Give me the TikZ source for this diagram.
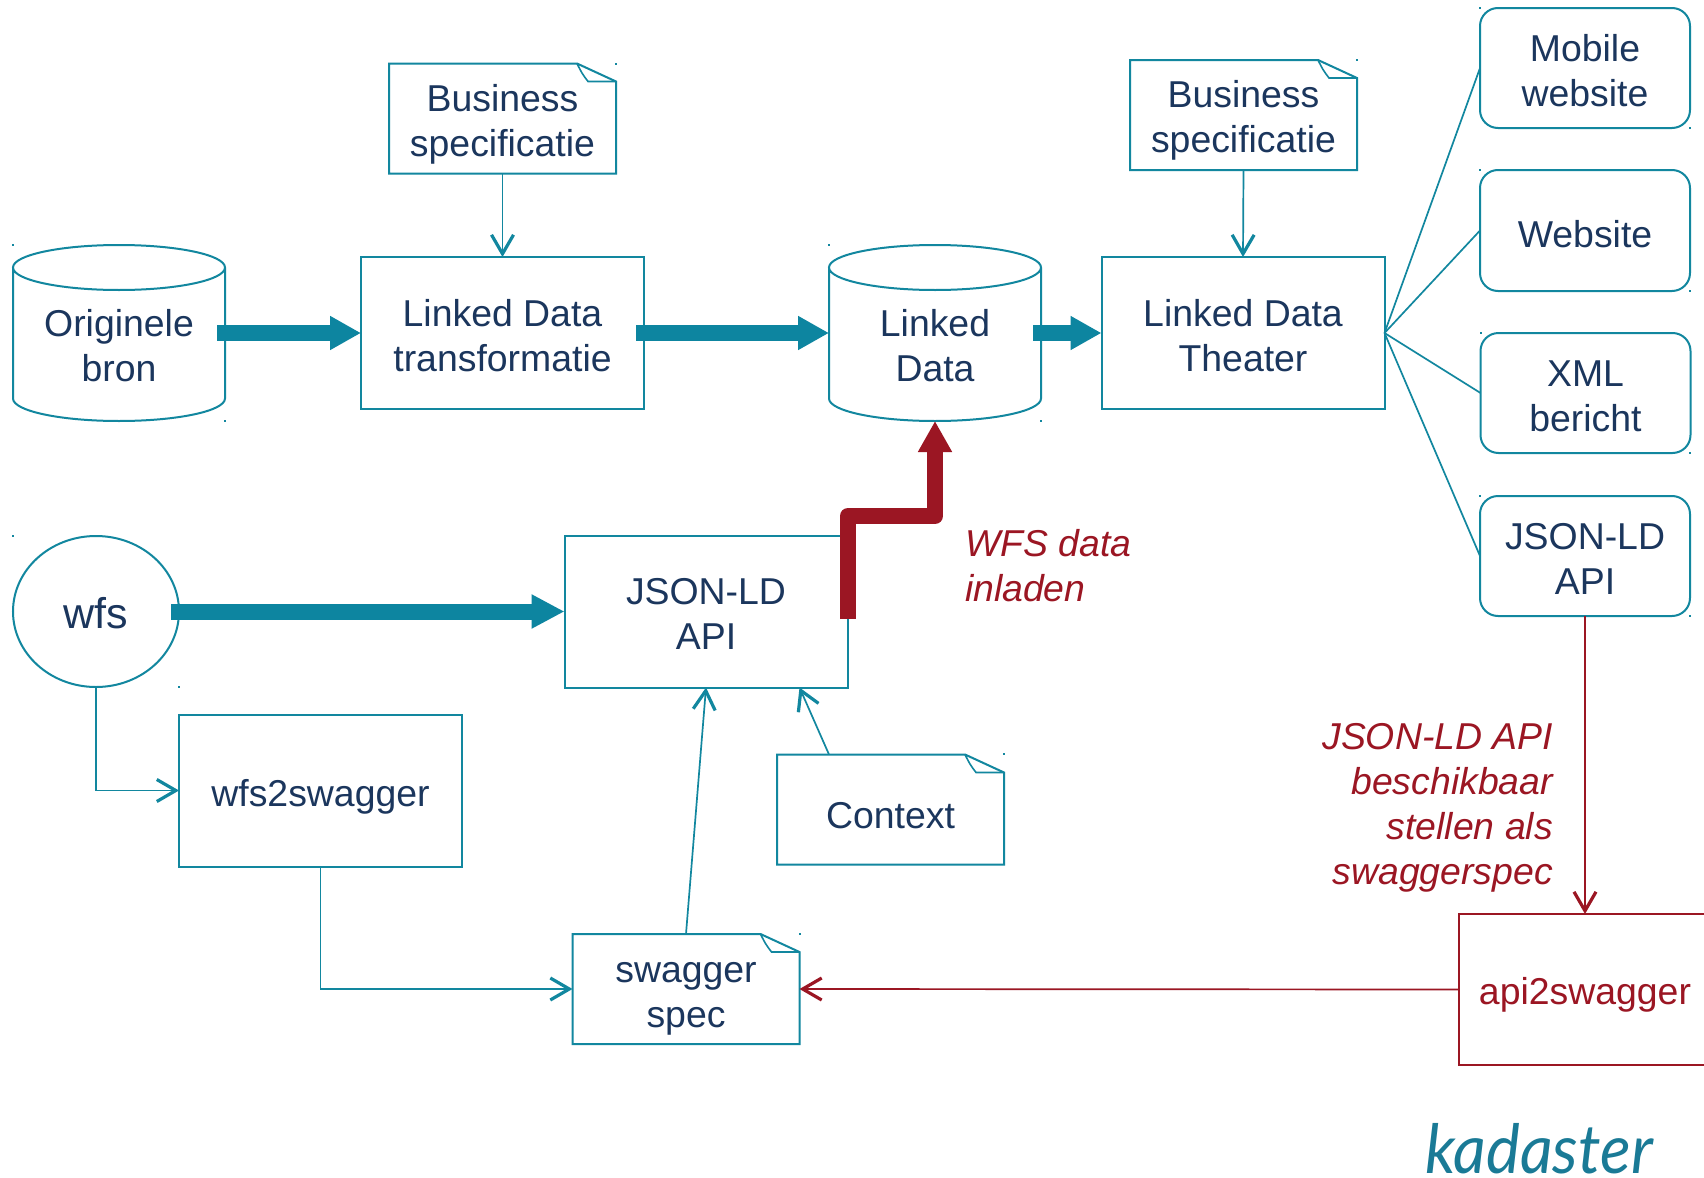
\documentclass[tikz,border=0pt]{standalone}
\usepackage{fontspec}
\setmainfont{Liberation Sans}
\newfontfamily\logofont[FakeStretch=0.94]{Lato Italic}
\usetikzlibrary{arrows.meta,calc,shapes.geometric}
\definecolor{teal1}{HTML}{12879F}
\definecolor{teal2}{HTML}{0D85A0}
\definecolor{ink}{HTML}{1B365D}
\definecolor{wine}{HTML}{9B1623}
\definecolor{logoc}{HTML}{1A7A96}
\newcommand{\dn}[1]{\rule{0pt}{\dimexpr13.5pt+#1pt*2\relax}}
\tikzset{
  every node/.style={inner sep=0pt,outer sep=0pt},
  txt/.style={font=\fontsize{18.7}{22.5}\selectfont,text=ink,align=center},
  ln/.style={draw=teal1,line width=1pt,line join=miter},
  boxn/.style={txt,ln,minimum width=141.5pt,minimum height=76pt},
  roundn/.style={txt,ln,rounded corners=9pt,minimum width=105pt,minimum height=60pt},
  noten/.style={txt,minimum width=113.5pt,minimum height=55pt},
  cyln/.style={minimum width=106pt,minimum height=88pt},
  conn/.style={draw=teal1,line width=0.85pt,-{Straight Barb[length=9.5pt,width=11pt,line width=1.6pt]}},
  redconn/.style={draw=wine,line width=0.85pt,-{Straight Barb[length=9.5pt,width=11pt,line width=1.6pt]}},
  plainconn/.style={draw=teal1,line width=0.85pt},
  fatarrow/.style={draw=teal2,line width=8pt,-{Triangle[length=15.5pt,width=16pt]}},
  redfat/.style={draw=wine,line width=8pt,line join=round,-{Triangle[length=15.5pt,width=16pt]}},
  redtxt/.style={font=\fontsize{18.7}{22.5}\selectfont\itshape,text=wine},
}
\newcommand{\notebox}[3]{%
  \node[noten] (#1) at (#2) {#3};
  \draw[ln] (#1.north west) -- ([xshift=-19.5pt]#1.north east) -- ([yshift=-9pt]#1.north east) -- (#1.south east) -- (#1.south west) -- cycle;
  \draw[ln,line width=0.8pt] ([xshift=-19.5pt]#1.north east) .. controls ([xshift=-17pt,yshift=-5pt]#1.north east) .. ([xshift=-14pt,yshift=-9pt]#1.north east) -- ([yshift=-9pt]#1.north east);
}
\newcommand{\cylbox}[3]{%
  \node[cyln] (#1) at (#2) {};
  \node[txt] (#1-t) at ($(#1.center)+(0,-6.5pt)$) {#3};
  \draw[ln] ([yshift=-11.25pt]#1.north west) -- ([yshift=11.25pt]#1.south west)
    arc[start angle=180,end angle=360,x radius=53pt,y radius=11.25pt]
    -- ([yshift=-11.25pt]#1.north east)
    arc[start angle=0,end angle=360,x radius=53pt,y radius=11.25pt];
}
\begin{document}
\begin{tikzpicture}[x=0.5pt,y=-0.5pt]
\clip (0,0) rectangle (1704,1178);
\fill[white] (0,0) rectangle (1704,1178);

% cylinders
\cylbox{orig}{119,333}{Originele\\bron}
\cylbox{ld}{935,333}{Linked\\Data}

% boxes
\node[boxn] (trans) at (502.5,333) {\dn{1.35}Linked Data\\transformatie};
\node[boxn] (theater) at (1243,333) {\dn{1.35}Linked Data\\Theater};
\node[boxn] (api) at (706,611.5) {\dn{1.1}JSON-LD\\API};
\node[boxn] (w2s) at (320.5,790.5) {\dn{3.25}wfs2swagger};
\node[boxn,draw=wine,text=wine,minimum width=126pt,minimum height=75.5pt] (a2s) at (1585,989.5) {\dn{2.8}api2swagger};

% rounded boxes
\node[roundn] (mob) at (1585,68) {\dn{1.1}Mobile\\website};
\node[roundn,minimum height=60.5pt] (web) at (1585,230.5) {\dn{1.6}Website};
\node[roundn] (xml) at (1585.5,393) {\dn{1.1}XML\\bericht};
\node[roundn] (jsn) at (1585,556) {\dn{1.1}JSON-LD\\API};

% wfs ellipse
\node[txt,font=\fontsize{21.5}{24}\selectfont,ln,ellipse,minimum width=83pt,minimum height=75.5pt] (wfs) at (96,611.5) {\rule{0pt}{17pt}wfs};

% notes
\notebox{bs1}{502.5,118.5}{\dn{2.75}Business\\specificatie}
\notebox{bs2}{1243.5,115}{\dn{2.75}Business\\specificatie}
\notebox{ctx}{890.5,809.5}{\dn{2.7}Context}
\notebox{swag}{686,989}{\dn{3}swagger\\spec}

% teal connectors
\draw[conn] (bs1.south) -- (trans.north);
\draw[conn] (bs2.south) -- (theater.north);
\draw[conn] (swag.north) -- (api.south);
\draw[conn] ([xshift=26pt]ctx.north west) -- ([xshift=-24pt]api.south east);
\draw[conn] (wfs.south) |- (w2s.west);
\draw[conn] (w2s.south) |- (swag.west);
\draw[plainconn] (theater.east) -- (mob.west);
\draw[plainconn] (theater.east) -- (web.west);
\draw[plainconn] (theater.east) -- (xml.west);
\draw[plainconn] (theater.east) -- (jsn.west);

% thick arrows
\draw[fatarrow] ([xshift=-4pt]orig.east) -- (trans.west);
\draw[fatarrow] ([xshift=-4pt]trans.east) -- (ld.west);
\draw[fatarrow] ([xshift=-4pt]ld.east) -- (theater.west);
\draw[fatarrow,-{Triangle[length=16.5pt,width=16pt]}] ([xshift=-4pt]wfs.east) -- (api.west);
\coordinate (bendA) at (848,516);
\coordinate (startR) at (848,619);
\draw[redfat] (startR) -- (bendA) -- (bendA -| ld.south) -- (ld.south);

% red connectors
\draw[redconn] (jsn.south) -- (a2s.north);
\draw[redconn] (a2s.west) -- (swag.east);

% labels
\node[redtxt,align=left,anchor=west] (wfslab) at (965,566) {WFS data\\inladen};
\node[redtxt,align=right,anchor=east] (apilab) at (1553,808) {JSON-LD API\\beschikbaar\\stellen als\\swaggerspec};

% logo
\node[anchor=base west,text=logoc,font=\fontsize{34}{34}\logofont] (logo) at (1425,1173) {kadaster};

% selection specks
\foreach \px/\py in {13/245,225/421,829/245,1041/421,616/64,1357/60,1480/8,1690/128,1480/170,1690/291,1481/333,1690/453,1480/496,1690/616,13/536,179/687,1004/754,800/934}
  \fill[teal1] (\px-1,\py-1) rectangle (\px+1,\py+1);
\end{tikzpicture}
\end{document}
